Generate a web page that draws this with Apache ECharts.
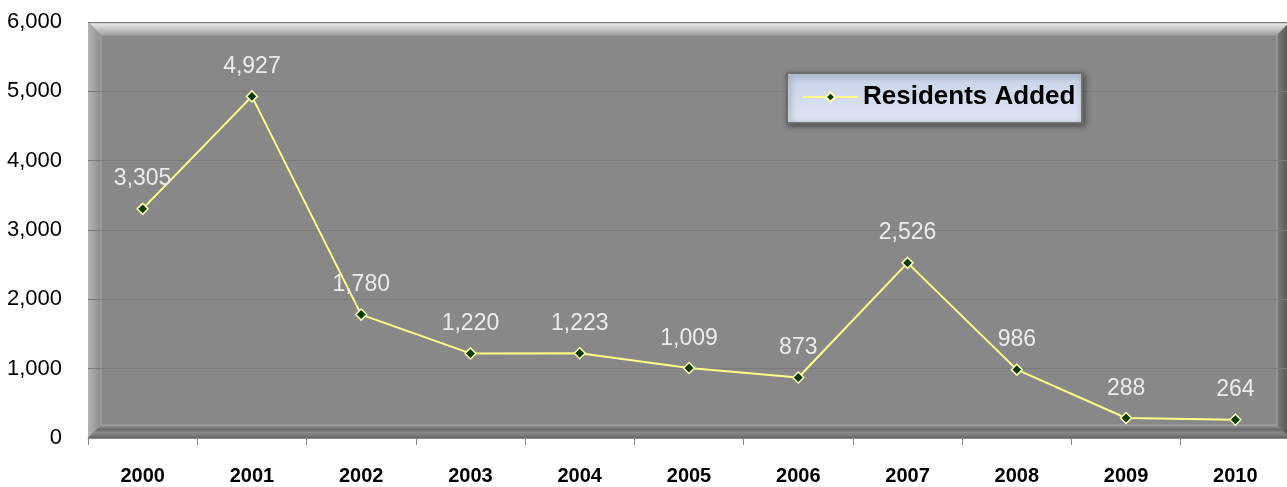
<!DOCTYPE html>
<html><head><meta charset="utf-8">
<script src="https://cdn.jsdelivr.net/npm/echarts@6/dist/echarts.min.js"></script>
<style>html,body{margin:0;padding:0;background:#fff}#c{width:1287px;height:487px}</style>
</head><body><div id="c"></div>
<script>
const years = ['2000','2001','2002','2003','2004','2005','2006','2007','2008','2009','2010'];
const residentsAdded = [3305, 4927, 1780, 1220, 1223, 1009, 873, 2526, 986, 288, 264];
const seriesName = 'Residents Added';
const yTicks = {min: 0, max: 6000, interval: 1000};

const FONT = '"Liberation Sans", Arial, sans-serif';
const chart = echarts.init(document.getElementById('c'));
const L = 88, T = 22, W = 1202, H = 416, B = 13;
chart.setOption({
  animation: false,
  grid: {left: L, top: T, width: W, height: H, containLabel: false, outerBoundsMode: 'none'},
  graphic: [
    {type: 'rect', z: -10, shape: {x: L, y: T, width: W, height: H}, style: {fill: '#8e8e8e'}},
    {type: 'polygon', z: -9, shape: {points: [[L, T], [L + W, T], [L + W - B, T + B], [L + B, T + B]]},
      style: {fill: new echarts.graphic.LinearGradient(0, 0, 0, 1, [{offset: 0, color: '#8a8a8a'}, {offset: 0.15, color: '#e4e4e4'}, {offset: 1, color: '#a0a0a0'}])}},
    {type: 'polygon', z: -9, shape: {points: [[L, T], [L + B, T + B], [L + B, T + H - B], [L, T + H]]},
      style: {fill: new echarts.graphic.LinearGradient(0, 0, 1, 0, [{offset: 0, color: '#b4b4b4'}, {offset: 1, color: '#8c8c8c'}])}},
    {type: 'polygon', z: -9, shape: {points: [[L + W, T], [L + W, T + H], [L + W - B, T + H - B], [L + W - B, T + B]]},
      style: {fill: new echarts.graphic.LinearGradient(0, 0, 1, 0, [{offset: 0, color: '#7a7a7a'}, {offset: 1, color: '#505050'}])}},
    {type: 'polygon', z: -9, shape: {points: [[L, T + H], [L + W, T + H], [L + W - B, T + H - B], [L + B, T + H - B]]},
      style: {fill: new echarts.graphic.LinearGradient(0, 0, 0, 1, [{offset: 0, color: '#9a9a9a'}, {offset: 0.35, color: '#6a6a6a'}, {offset: 0.6, color: '#8a8a8a'}, {offset: 1, color: '#666666'}])}},
    {type: 'rect', z: -8, shape: {x: L + B, y: T + B, width: W - 2 * B, height: H - 2 * B}, style: {fill: '#888888', stroke: '#a6a6a6', lineWidth: 1}},
    {type: 'rect', z: 5, shape: {x: 787, y: 73, width: 295, height: 50},
      style: {fill: new echarts.graphic.LinearGradient(0, 0, 0, 1, [{offset: 0, color: '#c6d2e8'}, {offset: 1, color: '#dfe6f3'}]), stroke: '#6e6e6e', lineWidth: 2,
        shadowBlur: 6, shadowColor: 'rgba(0,0,0,0.45)', shadowOffsetX: 2, shadowOffsetY: 2}}
  ],
  legend: {
    z: 10, left: 802, top: 84, padding: 0, itemWidth: 55, itemHeight: 12, itemGap: 0,
    data: [seriesName],
    textStyle: {fontFamily: FONT, fontWeight: 'bold', fontSize: 26, color: '#000', padding: [2, 0, 0, 0]}
  },
  xAxis: {
    type: 'category', data: years, boundaryGap: true,
    axisLine: {show: true, lineStyle: {color: '#8a8a8a', width: 1}},
    axisTick: {show: true, alignWithLabel: false, length: 7, lineStyle: {color: '#888'}},
    axisLabel: {fontFamily: FONT, fontWeight: 'bold', fontSize: 20, color: '#000', margin: 28},
    splitLine: {show: false}
  },
  yAxis: {
    type: 'value', min: yTicks.min, max: yTicks.max, interval: yTicks.interval,
    axisLine: {show: false}, axisTick: {show: false},
    axisLabel: {fontFamily: FONT, fontSize: 22, color: '#000', margin: 26,
      formatter: v => v.toLocaleString('en-US')},
    splitLine: {show: true, lineStyle: {color: '#7a7a7a', width: 1}}
  },
  series: [{
    name: seriesName, type: 'line', data: residentsAdded, z: 3,
    lineStyle: {color: '#ffff88', width: 2},
    itemStyle: {color: '#0b3a0b', borderColor: '#ffffb0', borderWidth: 1.5},
    symbol: 'diamond', symbolSize: 11, showAllSymbol: true,
    label: {show: true, position: 'top', distance: 12, fontFamily: FONT, fontSize: 23, color: '#ececec',
      formatter: p => p.value.toLocaleString('en-US')}
  }]
});
</script></body></html>
